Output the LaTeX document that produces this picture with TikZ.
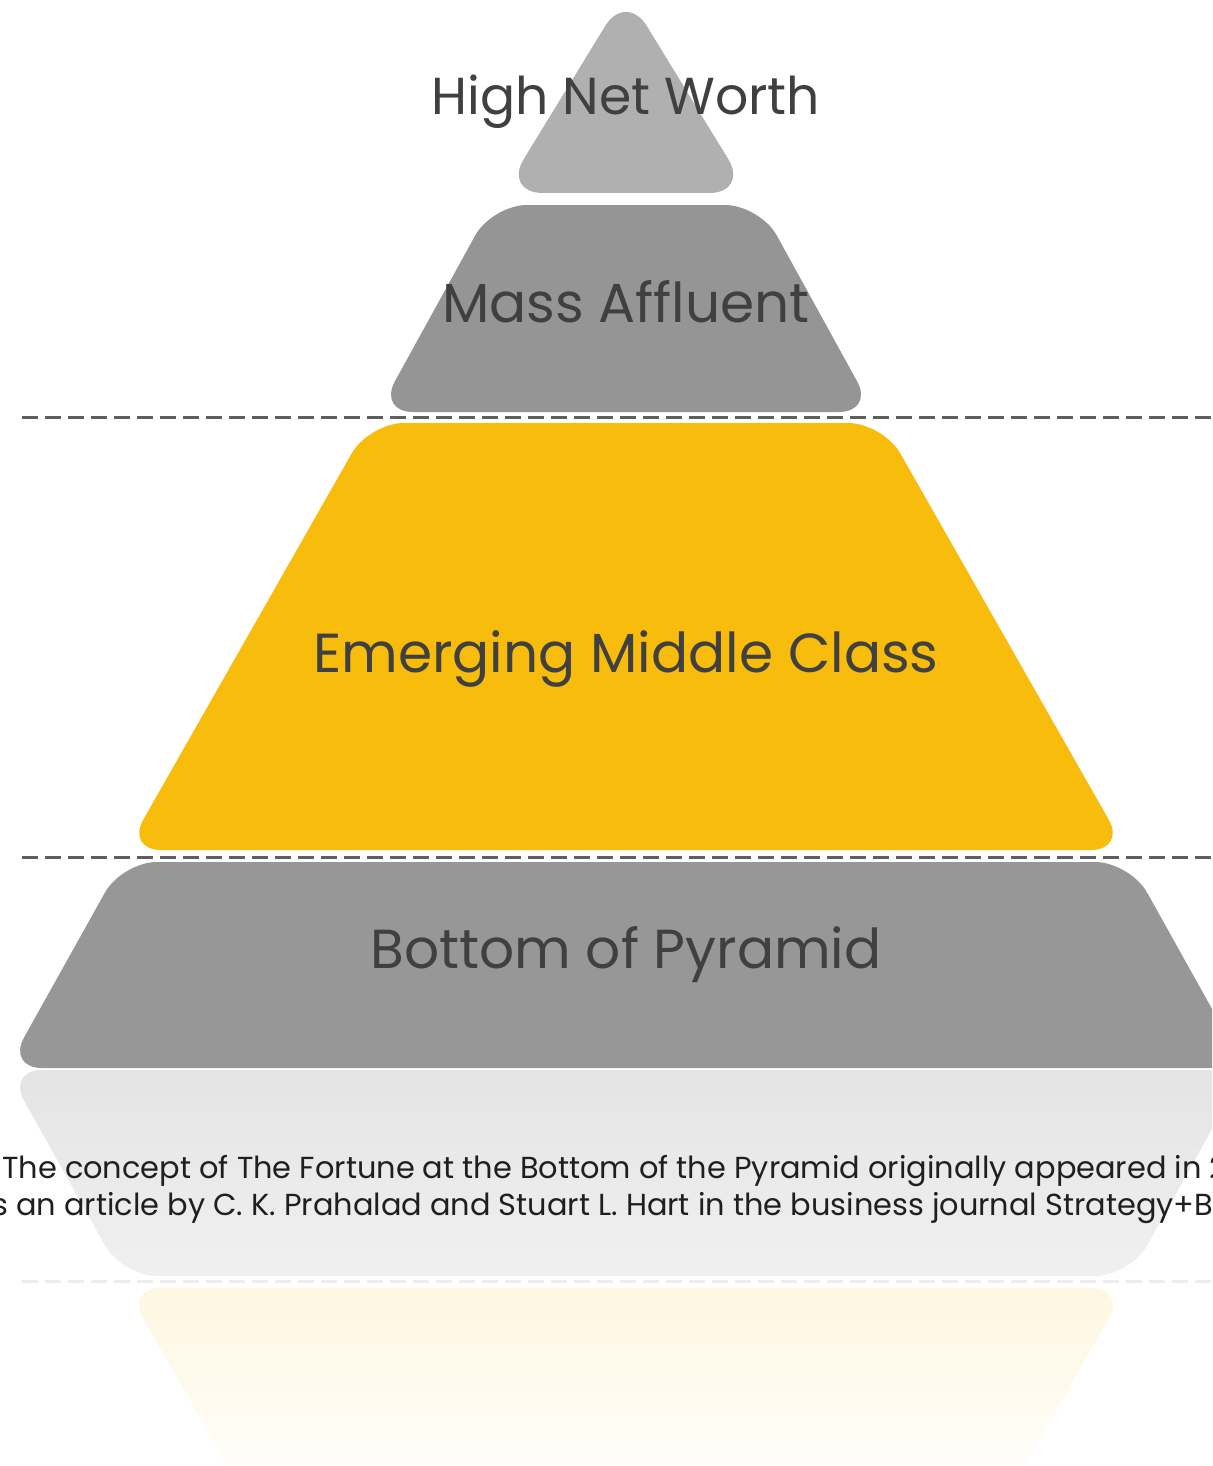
\documentclass[tikz,border=0pt]{standalone}
\usepackage{fontspec}
\setmainfont{Poppins}
\usepackage{xcolor}

\definecolor{topgrey}{HTML}{B0B0B0}
\definecolor{midgrey}{HTML}{959595}
\definecolor{basegrey}{HTML}{979797}
\definecolor{gold}{HTML}{F8BC0C}
\definecolor{labelgrey}{HTML}{404040}
\definecolor{dashgrey}{HTML}{5E5E5E}
\definecolor{ghosttop}{HTML}{E4E4E4}
\definecolor{ghostbottom}{HTML}{F0F0F0}

\begin{document}
\begin{tikzpicture}[x=1pt, y=-1pt,
    tier/.style={rounded corners=35pt},
    tiertext/.style={anchor=base, text=labelgrey, inner sep=0pt, font=\fontsize{55}{66}\selectfont},
    divider/.style={draw=dashgrey, line width=3pt, dash pattern=on 16pt off 7pt},
    caption/.style={anchor=base west, text=black!88, inner sep=0pt, font=\fontsize{30.4}{36}\selectfont},
]
    \useasboundingbox (0,0) rectangle (1212,1466);
    \fill[white] (0,0) rectangle (1212,1466);
    \clip (0,0) rectangle (1212,1466);

    % pyramid tiers
    \fill[topgrey, rounded corners=40pt] (503,193) -- (626,-8) -- (749,193) -- cycle;
    \fill[midgrey, tier] (492,205) -- (760,205) -- (874,412) -- (378,412) -- cycle;
    \fill[gold, tier] (369,423) -- (883,423) -- (1126,850) -- (126,850) -- cycle;
    \fill[basegrey, tier] (122,862) -- (1130,862) -- (1245,1068) -- (7,1068) -- cycle;

    \draw[divider] (22,417) -- (1212,417);
    \draw[divider] (22,857) -- (1212,857);

    % mirrored copy under the base
    \shade[tier, top color=ghosttop, bottom color=ghostbottom] (7,1070) -- (1245,1070) -- (1130,1276) -- (122,1276) -- cycle;
    \draw[divider, draw=black!7] (22,1281) -- (1212,1281);
    \shade[top color=gold!13, bottom color=white] (247,1500) [rounded corners=35pt] -- (126,1288) -- (1126,1288) [sharp corners] -- (1005,1500) -- cycle;

    \node[tiertext, font=\fontsize{52}{62}\selectfont] (hnw) at (626,115) {High Net Worth};
    \node[tiertext] (affluent) at (626,322) {Mass Affluent};
    \node[tiertext] (emerging) at (626,672) {Emerging Middle Class};
    \node[tiertext] (bop) at (626,968) {Bottom of Pyramid};

    \node[caption] (cap1) at (2,1178) {The concept of The Fortune at the Bottom of the Pyramid originally appeared in 2};
    \node[caption] (cap2) at (-8,1215) {s an article by C. K. Prahalad and Stuart L. Hart in the business journal Strategy+Bu};
\end{tikzpicture}
\end{document}
